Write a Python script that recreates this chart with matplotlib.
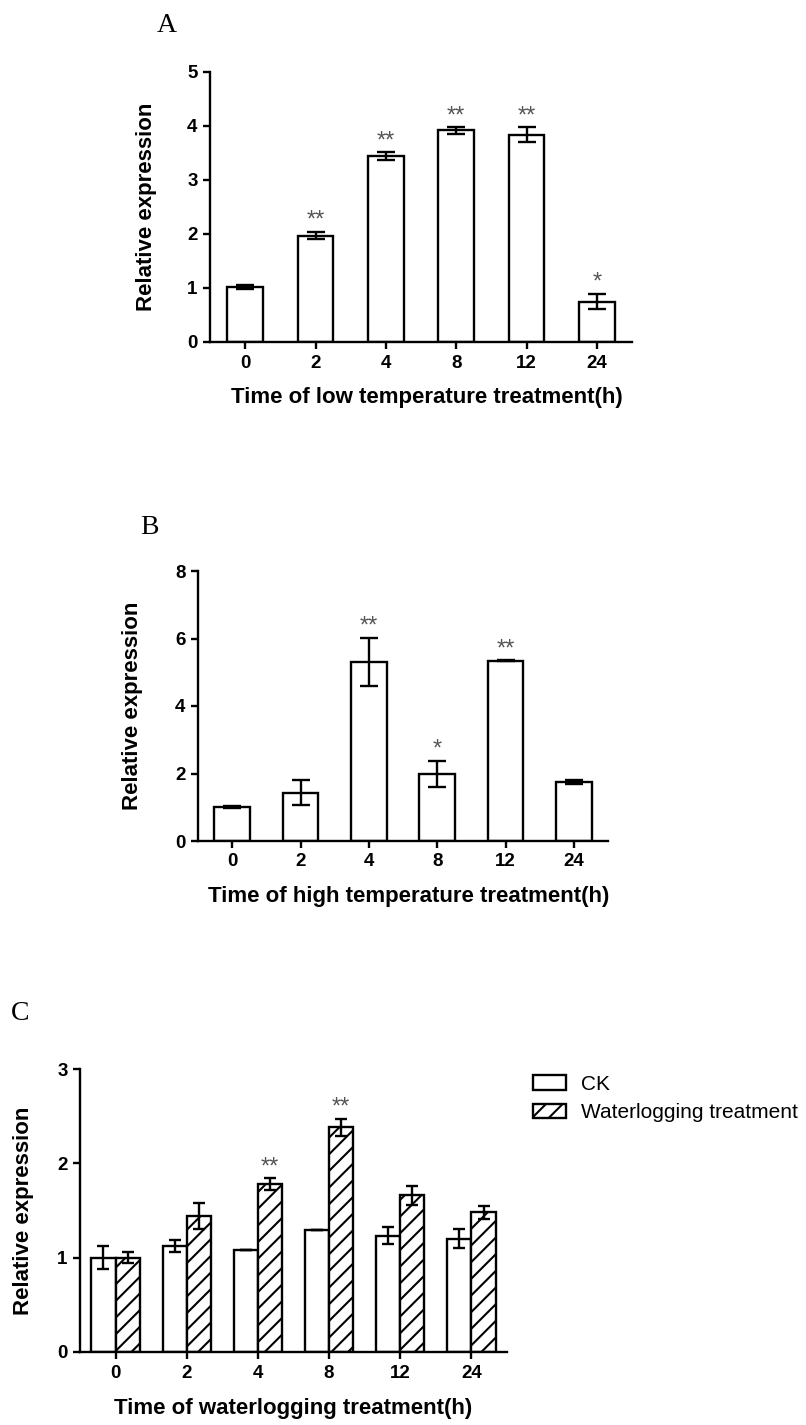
import matplotlib
matplotlib.use('Agg')
import matplotlib.pyplot as plt
import numpy as np

plt.rcParams['font.family'] = ['Liberation Sans', 'DejaVu Sans']
plt.rcParams['hatch.linewidth'] = 1.5

horas = ['0', '2', '4', '8', '12', '24']

# panel A - low temperature
baja_val = [1.02, 1.97, 3.44, 3.92, 3.84, 0.75]
baja_err = [0.03, 0.07, 0.07, 0.06, 0.14, 0.14]
baja_sig = ['', '**', '**', '**', '**', '*']

# panel B - high temperature
alta_val = [1.00, 1.43, 5.31, 1.99, 5.34, 1.75]
alta_err = [0.03, 0.37, 0.71, 0.38, 0.02, 0.05]
alta_sig = ['', '', '**', '*', '**', '']

# panel C - waterlogging
ck_val = [1.00, 1.12, 1.08, 1.29, 1.23, 1.20]
ck_err = [0.12, 0.065, 0.0, 0.0, 0.09, 0.10]
agua_val = [1.00, 1.44, 1.78, 2.38, 1.66, 1.48]
agua_err = [0.06, 0.14, 0.06, 0.09, 0.10, 0.065]
agua_sig = ['', '', '**', '**', '', '']

W, H = 806, 1425
fig = plt.figure(figsize=(W / 100, H / 100), dpi=100)


def caja(x0, x1, ytop, ybot):
    # pixels -> fraccion de figura
    return [x0 / W, 1 - ybot / H, (x1 - x0) / W, (ybot - ytop) / H]


def estilo(ax, ymax, paso, xlabel, ylab_x):
    ax.set_xlim(-0.5, 5.5)
    ax.set_ylim(0, ymax)
    ax.set_yticks(np.arange(0, ymax + 0.01, paso))
    ax.set_xticks(np.arange(len(horas)))
    ax.set_xticklabels(horas)
    for s in ['top', 'right']:
        ax.spines[s].set_visible(False)
    for s in ['left', 'bottom']:
        ax.spines[s].set_linewidth(1.7)
    ax.tick_params(width=1.7, length=5, labelsize=13.5, pad=4)
    for t in ax.get_xticklabels() + ax.get_yticklabels():
        t.set_fontweight('bold')
    ax.set_xlabel(xlabel, fontsize=16, fontweight='bold', va='center')
    ax.set_ylabel('Relative expression', fontsize=16, fontweight='bold', va='center')
    ax.xaxis.set_label_coords(0.515, -0.205)
    ax.yaxis.set_label_coords(ylab_x, 0.5)


def estrellas(ax, x, vals, errs, sigs):
    for xi, v, e, s in zip(x, vals, errs, sigs):
        if s:
            ax.annotate(s, (xi, v + e), xytext=(0, 0), textcoords='offset points',
                        ha='center', va='bottom', fontsize=17, color='#555555')


x = np.arange(len(horas))

# A
axA = fig.add_axes(caja(210, 632, 72, 342))
axA.bar(x, baja_val, 0.51, color='white', edgecolor='black', linewidth=1.7, zorder=2)
axA.errorbar(x, baja_val, yerr=baja_err, fmt='none', ecolor='black', elinewidth=1.7,
             capsize=6.5, capthick=1.7, zorder=3)
estrellas(axA, x, baja_val, baja_err, baja_sig)
estilo(axA, 5, 1, 'Time of low temperature treatment(h)', -0.15)
fig.text(167 / W, 1 - 25 / H, 'A', fontsize=20, family='Liberation Serif', ha='center', va='center')

# B
axB = fig.add_axes(caja(198, 608, 571, 841))
axB.bar(x, alta_val, 0.52, color='white', edgecolor='black', linewidth=1.7, zorder=2)
axB.errorbar(x, alta_val, yerr=alta_err, fmt='none', ecolor='black', elinewidth=1.7,
             capsize=6.5, capthick=1.7, zorder=3)
estrellas(axB, x, alta_val, alta_err, alta_sig)
estilo(axB, 8, 2, 'Time of high temperature treatment(h)', -0.16)
fig.text(149 / W, 1 - 528 / H, 'B', fontsize=20, family='Liberation Serif', ha='center', va='center')

# C
axC = fig.add_axes(caja(80, 507, 1069, 1352))
ancho = 0.34
axC.bar(x - ancho / 2, ck_val, ancho, color='white', edgecolor='black', linewidth=1.7,
        zorder=2, label='CK')
axC.bar(x + ancho / 2, agua_val, ancho, color='white', edgecolor='black', linewidth=1.7,
        hatch='//', zorder=2, label='Waterlogging treatment')
axC.errorbar(x - ancho / 2, ck_val, yerr=ck_err, fmt='none', ecolor='black', elinewidth=1.7,
             capsize=4, capthick=1.7, zorder=3)
axC.errorbar(x + ancho / 2, agua_val, yerr=agua_err, fmt='none', ecolor='black', elinewidth=1.7,
             capsize=4, capthick=1.7, zorder=3)
estrellas(axC, x + ancho / 2, agua_val, agua_err, agua_sig)
estilo(axC, 3, 1, 'Time of waterlogging treatment(h)', -0.133)
axC.xaxis.set_label_coords(0.5, -0.198)
axC.legend(loc='upper left', bbox_to_anchor=(533 / W, 1 - 1075 / H),
           bbox_transform=fig.transFigure, frameon=False, fontsize=15,
           handlelength=1.6, handleheight=0.7, handletextpad=0.7,
           labelspacing=0.45, borderpad=0, borderaxespad=0)
fig.text(20 / W, 1 - 1013 / H, 'C', fontsize=20, family='Liberation Serif', ha='center', va='center')

plt.savefig('out.png', dpi=100)
plt.close()
